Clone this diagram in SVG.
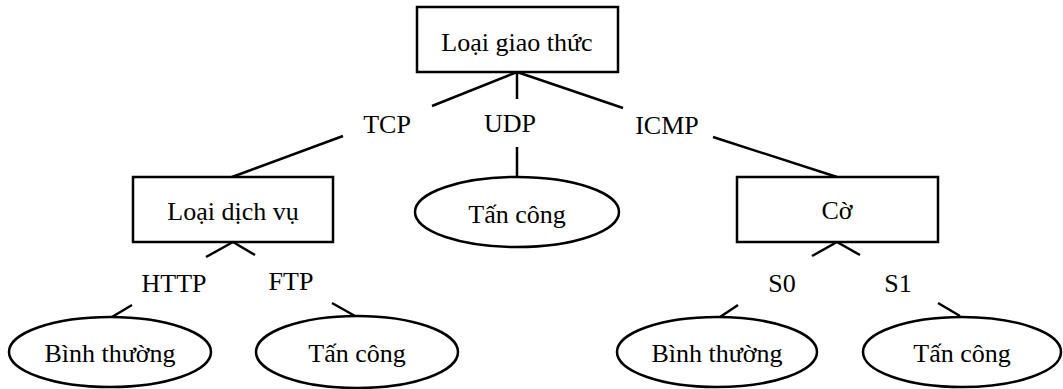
<svg xmlns="http://www.w3.org/2000/svg" width="1063" height="389" viewBox="0 0 1063 389">
  <style>
    .box { fill: #ffffff; stroke: #000000; stroke-width: 2.5; }
    .leaf { fill: #ffffff; stroke: #000000; stroke-width: 2.5; }
    .edge { stroke: #000000; stroke-width: 2.5; fill: none; }
    text { font-family: "Liberation Serif", "Times New Roman", serif; font-size: 26px; fill: #000000; text-anchor: middle; }
  </style>
  <rect width="1063" height="389" fill="#ffffff"/>

  <!-- connectors, broken where the branch labels sit -->
  <g id="connectors">
    <line class="edge" x1="517" y1="72" x2="432" y2="106"/>
    <line class="edge" x1="343" y1="136" x2="232" y2="177"/>
    <line class="edge" x1="517" y1="72" x2="517" y2="99"/>
    <line class="edge" x1="517" y1="147" x2="517" y2="177"/>
    <line class="edge" x1="517" y1="72" x2="623" y2="108"/>
    <line class="edge" x1="713" y1="137" x2="837" y2="177"/>
    <line class="edge" x1="233" y1="242" x2="206" y2="257"/>
    <line class="edge" x1="233" y1="242" x2="255" y2="255"/>
    <line class="edge" x1="132" y1="305" x2="112" y2="317"/>
    <line class="edge" x1="332" y1="303" x2="355" y2="316"/>
    <line class="edge" x1="837" y1="242" x2="812" y2="256"/>
    <line class="edge" x1="837" y1="242" x2="860" y2="255"/>
    <line class="edge" x1="738" y1="305" x2="720" y2="317"/>
    <line class="edge" x1="938" y1="303" x2="960" y2="316"/>
    <text x="387" y="133">TCP</text>
    <text x="510" y="132">UDP</text>
    <text x="667" y="134">ICMP</text>
    <text x="174" y="292">HTTP</text>
    <text x="291" y="290">FTP</text>
    <text x="782" y="292">S0</text>
    <text x="898" y="292">S1</text>
  </g>

  <g id="protocol">
    <rect class="box" x="417" y="7" width="201" height="65"/>
    <text x="517" y="51">Loại giao thức</text>
  </g>
  <g id="service">
    <rect class="box" x="133" y="177" width="200" height="65"/>
    <text x="233" y="220">Loại dịch vụ</text>
  </g>
  <g id="udp-attack">
    <ellipse class="leaf" cx="517" cy="212" rx="102" ry="35"/>
    <text x="517" y="223">Tấn công</text>
  </g>
  <g id="flag">
    <rect class="box" x="737" y="177" width="201" height="65"/>
    <text x="837" y="219">Cờ</text>
  </g>
  <g id="http-normal">
    <ellipse class="leaf" cx="110" cy="352" rx="101" ry="35"/>
    <text x="110" y="362">Bình thường</text>
  </g>
  <g id="ftp-attack">
    <ellipse class="leaf" cx="357" cy="352" rx="101" ry="36"/>
    <text x="357" y="362">Tấn công</text>
  </g>
  <g id="s0-normal">
    <ellipse class="leaf" cx="717" cy="352" rx="100" ry="35"/>
    <text x="717" y="362">Bình thường</text>
  </g>
  <g id="s1-attack">
    <ellipse class="leaf" cx="962" cy="352" rx="99" ry="35"/>
    <text x="962" y="362">Tấn công</text>
  </g>
</svg>
